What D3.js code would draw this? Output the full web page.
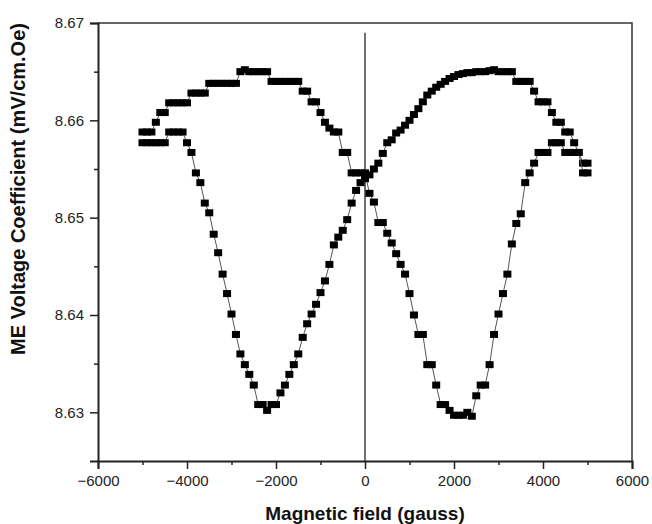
<!DOCTYPE html>
<html>
<head>
<meta charset="utf-8">
<script src="https://cdn.jsdelivr.net/npm/d3@7"></script>
<style>
  body { margin: 0; background: #fff; }
  svg { display: block; font-family: "Liberation Sans", Arial, sans-serif; }
</style>
</head>
<body>
<div id="grafico"></div>
<script>
const width = 652
const height = 524
const margin = {top: 23, right: 20, bottom: 63, left: 98}

// magnetic field (gauss), same sweep points for both branches
const field = [
  -5000, -4900, -4800, -4700, -4600, -4500, -4400, -4300, -4200, -4100,
  -4000, -3900, -3800, -3700, -3600, -3500, -3400, -3300, -3200, -3100,
  -3000, -2900, -2800, -2700, -2600, -2500, -2400, -2300, -2200, -2100,
  -2000, -1900, -1800, -1700, -1600, -1500, -1400, -1300, -1200, -1100,
  -1000, -900, -800, -700, -600, -500, -400, -300, -200, -100,
  0, 100, 200, 300, 400, 500, 600, 700, 800, 900,
  1000, 1100, 1200, 1300, 1400, 1500, 1600, 1700, 1800, 1900,
  2000, 2100, 2200, 2300, 2400, 2500, 2600, 2700, 2800, 2900,
  3000, 3100, 3200, 3300, 3400, 3500, 3600, 3700, 3800, 3900,
  4000, 4100, 4200, 4300, 4400, 4500, 4600, 4700, 4800, 4900,
  5000
]

// branch with the hump on the left and the dip on the right
const branchA = [
  8.6588, 8.6588, 8.6588, 8.6598, 8.6608, 8.6608, 8.6618, 8.6618, 8.6618, 8.6618,
  8.6618, 8.6628, 8.6628, 8.6628, 8.6628, 8.6638, 8.6638, 8.6638, 8.6638, 8.6638,
  8.6638, 8.6638, 8.6650, 8.6652, 8.6650, 8.6650, 8.6650, 8.6650, 8.6650, 8.6640,
  8.6640, 8.6640, 8.6640, 8.6640, 8.6640, 8.6640, 8.6630, 8.6630, 8.6619, 8.6619,
  8.6608, 8.6598, 8.6592, 8.6588, 8.6588, 8.6567, 8.6567, 8.6546, 8.6546, 8.6546,
  8.6546, 8.6525, 8.6516, 8.6495, 8.6495, 8.6484, 8.6474, 8.6463, 8.6452, 8.6442,
  8.6422, 8.6400, 8.6380, 8.6380, 8.6349, 8.6349, 8.6328, 8.6308, 8.6308, 8.6302,
  8.6297, 8.6297, 8.6297, 8.6300, 8.6296, 8.6317, 8.6328, 8.6328, 8.6349, 8.6380,
  8.6401, 8.6422, 8.6442, 8.6473, 8.6494, 8.6504, 8.6536, 8.6546, 8.6556, 8.6567,
  8.6567, 8.6567, 8.6577, 8.6577, 8.6577, 8.6567, 8.6567, 8.6567, 8.6567, 8.6556,
  8.6556
]

// branch with the dip on the left and the hump on the right
const branchB = [
  8.6577, 8.6577, 8.6577, 8.6577, 8.6577, 8.6577, 8.6588, 8.6588, 8.6588, 8.6588,
  8.6577, 8.6567, 8.6546, 8.6536, 8.6515, 8.6505, 8.6483, 8.6464, 8.6442, 8.6422,
  8.6401, 8.6380, 8.6360, 8.6349, 8.6339, 8.6328, 8.6308, 8.6308, 8.6302, 8.6308,
  8.6308, 8.6320, 8.6328, 8.6339, 8.6349, 8.6360, 8.6377, 8.6391, 8.6401, 8.6411,
  8.6423, 8.6435, 8.6452, 8.6472, 8.6480, 8.6487, 8.6498, 8.6515, 8.6528, 8.6536,
  8.6540, 8.6544, 8.6550, 8.6556, 8.6566, 8.6577, 8.6580, 8.6587, 8.6590, 8.6595,
  8.6600, 8.6606, 8.6612, 8.6619, 8.6626, 8.6630, 8.6634, 8.6637, 8.6640, 8.6643,
  8.6645, 8.6647, 8.6648, 8.6649, 8.6649, 8.6650, 8.6650, 8.6650, 8.6651, 8.6652,
  8.6650, 8.6650, 8.6650, 8.6650, 8.6640, 8.6640, 8.6640, 8.6640, 8.6630, 8.6619,
  8.6619, 8.6619, 8.6608, 8.6598, 8.6598, 8.6588, 8.6588, 8.6577, 8.6567, 8.6546,
  8.6546
]

const xMajor = [-6000, -4000, -2000, 0, 2000, 4000, 6000]
const xMinor = [-5000, -3000, -1000, 1000, 3000, 5000]
const yMajor = [8.63, 8.64, 8.65, 8.66, 8.67]
const yMinor = [8.635, 8.645, 8.655, 8.665]

const svg = d3.select('#grafico').append('svg')
              .attr('width', width)
              .attr('height', height)

const x = d3.scaleLinear().domain([-6000, 6000]).range([margin.left, width - margin.right])
const y = d3.scaleLinear().domain([8.625, 8.67]).range([height - margin.bottom, margin.top])

// frame (top and right)
svg.append('path')
   .attr('d', `M${x(-6000)},${y(8.67)}H${x(6000)}V${y(8.625)}`)
   .attr('fill', 'none')
   .attr('stroke', '#333')
   .attr('stroke-width', 1.5)

// zero field marker line
svg.append('line')
   .attr('x1', x(0)).attr('x2', x(0))
   .attr('y1', y(8.669)).attr('y2', y(8.625))
   .attr('stroke', '#111')
   .attr('stroke-width', 1.2)

function styleAxis(g) {
  g.selectAll('.domain').attr('stroke', '#222').attr('stroke-width', 2)
  g.selectAll('.tick line').attr('stroke', '#222').attr('stroke-width', 1.5)
  g.selectAll('.tick text').attr('fill', '#222').style('font-size', '15px')
}

const xAxis = svg.append('g')
   .attr('transform', `translate(0,${y(8.625)})`)
   .call(d3.axisBottom(x).tickValues(xMajor).tickSize(8).tickPadding(6).tickFormat(d3.format('d')))
styleAxis(xAxis)
svg.append('g')
   .attr('transform', `translate(0,${y(8.625)})`)
   .call(d3.axisBottom(x).tickValues(xMinor).tickSize(4).tickFormat(''))
   .call(g => g.select('.domain').remove())
   .call(g => g.selectAll('line').attr('stroke', '#222').attr('stroke-width', 1.5))

const yAxis = svg.append('g')
   .attr('transform', `translate(${x(-6000)},0)`)
   .call(d3.axisLeft(y).tickValues(yMajor).tickSize(8).tickPadding(6).tickFormat(d3.format('.2f')))
styleAxis(yAxis)
svg.append('g')
   .attr('transform', `translate(${x(-6000)},0)`)
   .call(d3.axisLeft(y).tickValues(yMinor).tickSize(4).tickFormat(''))
   .call(g => g.select('.domain').remove())
   .call(g => g.selectAll('line').attr('stroke', '#222').attr('stroke-width', 1.5))

const line = d3.line().x(d => x(d[0])).y(d => y(d[1]))

;[branchA, branchB].forEach(values => {
  const pts = field.map((f, i) => [f, values[i]])
  svg.append('path')
     .datum(pts)
     .attr('d', line)
     .attr('fill', 'none')
     .attr('stroke', '#555')
     .attr('stroke-width', 1)
  svg.append('g')
     .selectAll('rect')
     .data(pts)
     .enter()
     .append('rect')
     .attr('x', d => x(d[0]) - 4)
     .attr('y', d => y(d[1]) - 3.5)
     .attr('width', 8)
     .attr('height', 7)
     .attr('fill', '#000')
})

svg.append('text')
   .attr('x', x(0))
   .attr('y', 520)
   .attr('text-anchor', 'middle')
   .style('font-size', '19px')
   .style('font-weight', 'bold')
   .attr('fill', '#111')
   .text('Magnetic field (gauss)')

svg.append('text')
   .attr('transform', 'translate(25,189) rotate(-90)')
   .attr('text-anchor', 'middle')
   .style('font-size', '20px')
   .style('font-weight', 'bold')
   .attr('fill', '#111')
   .text('ME Voltage Coefficient (mV/cm.Oe)')
</script>
</body>
</html>
